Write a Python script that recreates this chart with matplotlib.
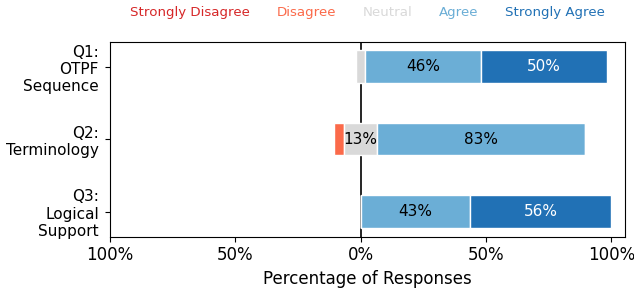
import numpy as np
import matplotlib
matplotlib.use("Agg")
import matplotlib.pyplot as plt

# ---- Dati (percentuali per domanda) ----
questions = ["Q1:\nOTPF\nSequence", "Q2:\nTerminology", "Q3:\nLogical\nSupport"]
categories = ["Strongly Disagree", "Disagree", "Neutral", "Agree", "Strongly Agree"]
colors = ["#d62728", "#fb6a4a", "#d9d9d9", "#6baed6", "#2171b5"]
strongly_disagree = [0.0, 0.0, 0.0]
disagree = [0.0, 4.0, 0.0]
neutral = [3.6, 13.0, 0.0]
agree = [46.4, 83.0, 43.5]
strongly_agree = [50.0, 0.0, 56.5]
xticks = [-100, -50, 0, 50, 100]

data = np.array([strongly_disagree, disagree, neutral, agree, strongly_agree]).T
y = np.arange(len(questions))

fig, ax = plt.subplots(figsize=(6.34, 2.93), dpi=100)
fig.subplots_adjust(left=0.1735, right=0.986, top=0.858, bottom=0.192)

ax.axvline(0, color="black", linewidth=1.2, zorder=0)

# i bar iniziano a sinistra in modo che il neutro sia centrato sullo zero
starts = -(data[:, 0] + data[:, 1] + data[:, 2] / 2)
left = starts.copy()
for j, cat in enumerate(categories):
    w = data[:, j]
    bars = ax.barh(y, w, left=left, height=0.45, color=colors[j],
                   edgecolor="white", linewidth=1, label=cat, zorder=2)
    for i, b in enumerate(bars):
        if w[i] >= 10:
            txt_col = "white" if j == 4 else "black"
            ax.text(left[i] + w[i] / 2, y[i], f"{int(w[i])}%",
                    ha="center", va="center", fontsize=11, color=txt_col,
                    zorder=3)
    left = left + w

ax.set_xlim(left=-100)
ax.set_yticks(y)
ax.set_yticklabels(questions, fontsize=11)
ax.tick_params(axis="y", pad=4.5)
ax.invert_yaxis()
ax.set_xticks(xticks)
ax.set_xticklabels([f"{abs(t)}%" for t in xticks], fontsize=12)
ax.set_xlabel("Percentage of Responses", fontsize=12)

# legenda solo testo colorato
leg = fig.legend(loc="center", bbox_to_anchor=(0.58, 0.959), ncol=5,
                 frameon=False, handlelength=0, handletextpad=0,
                 columnspacing=2.0, fontsize=9.6)
for h in leg.legend_handles:
    h.set_visible(False)
for t, c in zip(leg.get_texts(), colors):
    t.set_color(c)

fig.savefig("out.png", dpi=100)
